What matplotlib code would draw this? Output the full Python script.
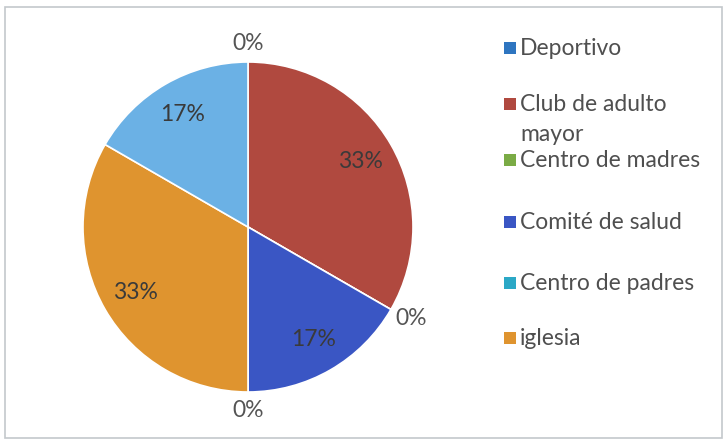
import matplotlib
matplotlib.use("Agg")
import matplotlib.pyplot as plt
from matplotlib.patches import Rectangle
import numpy as np

# Group membership shares (counts), drawn clockwise from 12 o'clock
categories = ["Deportivo", "Club de adulto\nmayor", "Centro de madres",
              "Comité de salud", "Centro de padres", "iglesia", "Otro"]
counts = [0, 2, 0, 1, 0, 2, 1]
colors = ["#2E75C0", "#B0493F", "#7AAB45", "#3A56C4", "#2BA8C6", "#DF942F", "#6BB1E5"]
legend_count = 6  # only the first six groups appear in the legend

W, H = 726, 445
fig = plt.figure(figsize=(W / 100, H / 100), dpi=100)
fig.patch.set_facecolor("white")
plt.rcParams["font.family"] = ["Lato", "DejaVu Sans"]
FS = 16.5

# outer frame
fig.patches.append(Rectangle((5 / W, 1 - 438 / H), 717 / W, 431 / H,
                             transform=fig.transFigure, fill=False,
                             edgecolor="#c4c8cc", linewidth=1.2))

# pie: centre (248, 227) px, radius 165 px
cx, cy, r = 248, 227, 165
ax = fig.add_axes([(cx - r) / W, 1 - (cy + r) / H, 2 * r / W, 2 * r / H])
wedges, _ = ax.pie(counts, colors=colors, startangle=90, counterclock=False,
                   radius=1, wedgeprops=dict(edgecolor="white", linewidth=1.2))
ax.set_xlim(-1, 1)
ax.set_ylim(-1, 1)
ax.set_aspect("equal")
ax.axis("off")

# data labels: inside for non-empty slices, just outside the rim for empty ones
total = sum(counts)
hw, hh = 15 / r, 10 / r   # half extents of an outside label, in radius units
for w, v in zip(wedges, counts):
    ang = np.deg2rad((w.theta1 + w.theta2) / 2)
    ux, uy = np.cos(ang), np.sin(ang)
    pct = f"{round(v / total * 100):.0f}%"
    if v > 0:
        x, y, col = 0.79 * ux, 0.79 * uy, "#3a3a3a"
    else:
        g = 1.05
        x, y, col = g * ux + ux * hw, g * uy + uy * hh, "#555555"
    ax.text(x, y, pct, ha="center", va="center", fontsize=FS, color=col,
            clip_on=False)

# legend drawn as squares + labels (row centres in px from the top)
legend_y = [48, 104, 160, 222, 283, 338]
line_step = 30
sq = 12
for lab, col, y in zip(categories[:legend_count], colors[:legend_count], legend_y):
    fig.patches.append(Rectangle((504 / W, 1 - (y + sq / 2) / H), sq / W, sq / H,
                                 transform=fig.transFigure, facecolor=col,
                                 edgecolor="none"))
    for k, line in enumerate(lab.split("\n")):
        fig.text(520 / W, 1 - (y + 7 + k * line_step) / H, line, ha="left",
                 va="baseline", fontsize=FS, color="#4f4f4f")

fig.savefig("out.png", dpi=100)
